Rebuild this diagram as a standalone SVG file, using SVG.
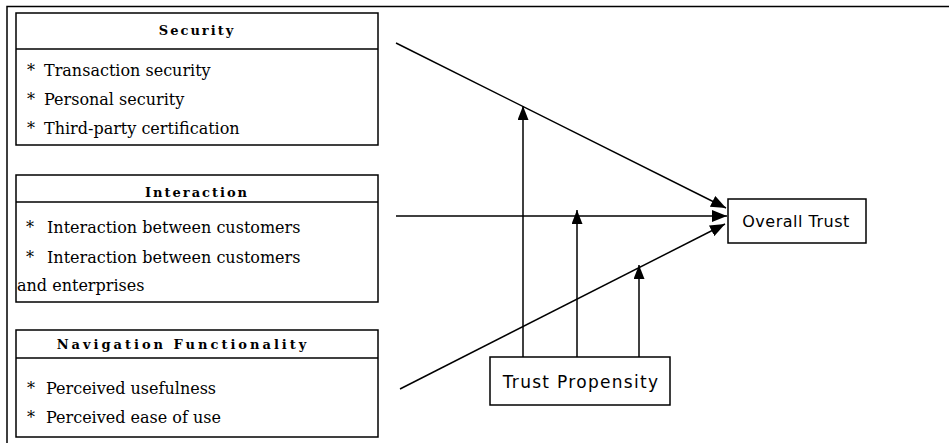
<svg xmlns="http://www.w3.org/2000/svg" width="949" height="443" viewBox="0 0 949 443">
<defs>
<marker id="ah" markerUnits="userSpaceOnUse" markerWidth="16" markerHeight="12" refX="15" refY="6" orient="auto">
<path d="M0,0 L15,6 L0,12 z" fill="#000"/>
</marker>
<marker id="av" markerUnits="userSpaceOnUse" markerWidth="14" markerHeight="11" refX="14" refY="5.5" orient="auto">
<path d="M0,0 L14,5.5 L0,11 z" fill="#000"/>
</marker>
</defs>
<style>
.box{fill:#fff;stroke:#000;stroke-width:1.5}
.ln{stroke:#000;stroke-width:1.5;fill:none}
.hd{font-family:"DejaVu Serif","Liberation Serif",serif;font-weight:bold;font-size:13px;letter-spacing:2px;text-anchor:middle;fill:#000}
.it{font-family:"DejaVu Serif","Liberation Serif",serif;font-size:16px;fill:#000}
.nd{font-family:"DejaVu Sans","Liberation Sans",sans-serif;font-size:16px;text-anchor:middle;fill:#000}
</style>
<rect width="949" height="443" fill="#fff"/>
<g id="frame">
<path class="ln" d="M7,443 L7,6.5 L949,6.5" stroke-width="2"/>
</g>
<g id="security">
<rect class="box" x="16" y="13" width="362" height="132"/>
<line class="ln" x1="16" y1="49" x2="378" y2="49"/>
<text class="hd" x="197" y="35">Security</text>
<text class="it" y="76"><tspan x="27">*</tspan><tspan x="44">Transaction security</tspan></text>
<text class="it" y="105"><tspan x="27">*</tspan><tspan x="44">Personal security</tspan></text>
<text class="it" y="134"><tspan x="27">*</tspan><tspan x="44">Third-party certification</tspan></text>
</g>
<g id="interaction">
<rect class="box" x="16" y="175" width="362" height="127"/>
<line class="ln" x1="16" y1="202" x2="378" y2="202"/>
<text class="hd" x="197" y="197">Interaction</text>
<text class="it" y="233"><tspan x="26">*</tspan><tspan x="47">Interaction between customers</tspan></text>
<text class="it" y="263"><tspan x="26">*</tspan><tspan x="47">Interaction between customers</tspan></text>
<text class="it" x="17" y="291">and enterprises</text>
</g>
<g id="navigation">
<rect class="box" x="16" y="330" width="362" height="107"/>
<line class="ln" x1="16" y1="358" x2="378" y2="358"/>
<text class="hd" x="183" y="349" style="letter-spacing:3px">Navigation Functionality</text>
<text class="it" y="394"><tspan x="27">*</tspan><tspan x="46">Perceived usefulness</tspan></text>
<text class="it" y="423"><tspan x="27">*</tspan><tspan x="46">Perceived ease of use</tspan></text>
</g>
<g id="overall-trust">
<rect class="box" x="728" y="199" width="138" height="44"/>
<text class="nd" x="796" y="227" style="letter-spacing:0.5px">Overall Trust</text>
</g>
<g id="trust-propensity">
<rect class="box" x="490" y="357" width="180" height="48"/>
<text class="nd" x="581" y="388" style="font-size:17px;letter-spacing:1.3px">Trust Propensity</text>
</g>
<g id="connectors">
<line class="ln" x1="396" y1="43" x2="726" y2="208" marker-end="url(#ah)"/>
<line class="ln" x1="396" y1="216" x2="727" y2="216" marker-end="url(#ah)"/>
<line class="ln" x1="400" y1="389" x2="725" y2="224" marker-end="url(#ah)"/>
<line class="ln" x1="523" y1="357" x2="523" y2="106" marker-end="url(#av)"/>
<line class="ln" x1="577" y1="357" x2="577" y2="210" marker-end="url(#av)"/>
<line class="ln" x1="639" y1="357" x2="639" y2="265" marker-end="url(#av)"/>
</g>
</svg>
